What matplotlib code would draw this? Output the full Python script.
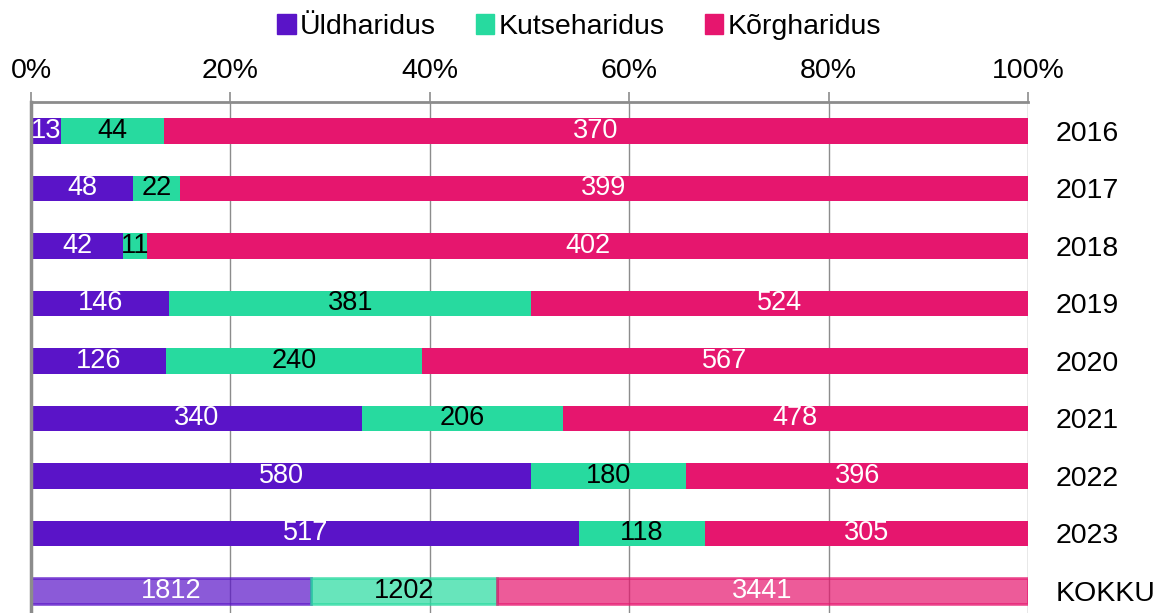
import numpy as np
import matplotlib.pyplot as plt

plt.rcParams['font.family'] = ['Liberation Sans', 'DejaVu Sans']

categories = ['2016', '2017', '2018', '2019', '2020', '2021', '2022', '2023', 'KOKKU']
yldharidus = [13, 48, 42, 146, 126, 340, 580, 517, 1812]
kutseharidus = [44, 22, 11, 381, 240, 206, 180, 118, 1202]
korgharidus = [370, 399, 402, 524, 567, 478, 396, 305, 3441]
series = ['Üldharidus', 'Kutseharidus', 'Kõrgharidus']
colors = ['#5A14C8', '#27DA9F', '#E6166E']
text_colors = ['white', 'black', 'white']
xticks = [0, 20, 40, 60, 80, 100]
xticklabels = ['0%', '20%', '40%', '60%', '80%', '100%']

vals = np.array([yldharidus, kutseharidus, korgharidus], dtype=float)
pct = vals / vals.sum(axis=0) * 100

fig = plt.figure(figsize=(11.63, 6.13), dpi=100)
W, H = 1163, 613
ax = fig.add_axes([31 / W, 0, (1028 - 31) / W, (H - 102) / H])

y = np.arange(len(categories))
left = np.zeros(len(categories))
for k in range(3):
    for i in range(len(categories)):
        last = categories[i] == 'KOKKU'
        ax.barh(y[i], pct[k, i], left=left[i], height=0.45,
                color=colors[k], alpha=0.7 if last else 1.0,
                edgecolor=colors[k] if last else 'none',
                linewidth=2 if last else 0, zorder=2)
        ax.text(left[i] + pct[k, i] / 2, y[i], str(int(vals[k, i])),
                ha='center', va='center', fontsize=19.5,
                color=text_colors[k], zorder=4)
    left += pct[k]

ax.set_xlim(0, 100)
ax.set_ylim(8.383, -0.504)
ax.xaxis.tick_top()
ax.set_xticks(xticks)
ax.set_xticklabels(xticklabels, fontsize=20.5)
ax.tick_params(axis='x', length=7, width=1.2, color='#8c8c8c', pad=6)
ax.set_yticks(y)
ax.set_yticklabels(categories, fontsize=20.5)
ax.yaxis.tick_right()
ax.tick_params(axis='y', length=0, pad=20)
ax.grid(axis='x', color='#8c8c8c', linewidth=1.0, zorder=1)
ax.set_axisbelow(True)
for s in ['right', 'bottom']:
    ax.spines[s].set_visible(False)
ax.spines['top'].set_color('#8c8c8c')
ax.spines['top'].set_linewidth(2)
ax.spines['left'].set_color('#8c8c8c')
ax.spines['left'].set_linewidth(2.5)

handles = [plt.Rectangle((0, 0), 1, 1, color=c) for c in colors]
fig.legend(handles, series, loc='center', bbox_to_anchor=(579 / W, 1 - 27 / H),
           ncol=3, frameon=False, fontsize=20.5, handlelength=0.65, handleheight=0.65,
           handletextpad=0.15, columnspacing=1.4)

fig.savefig('out.png', dpi=100)
